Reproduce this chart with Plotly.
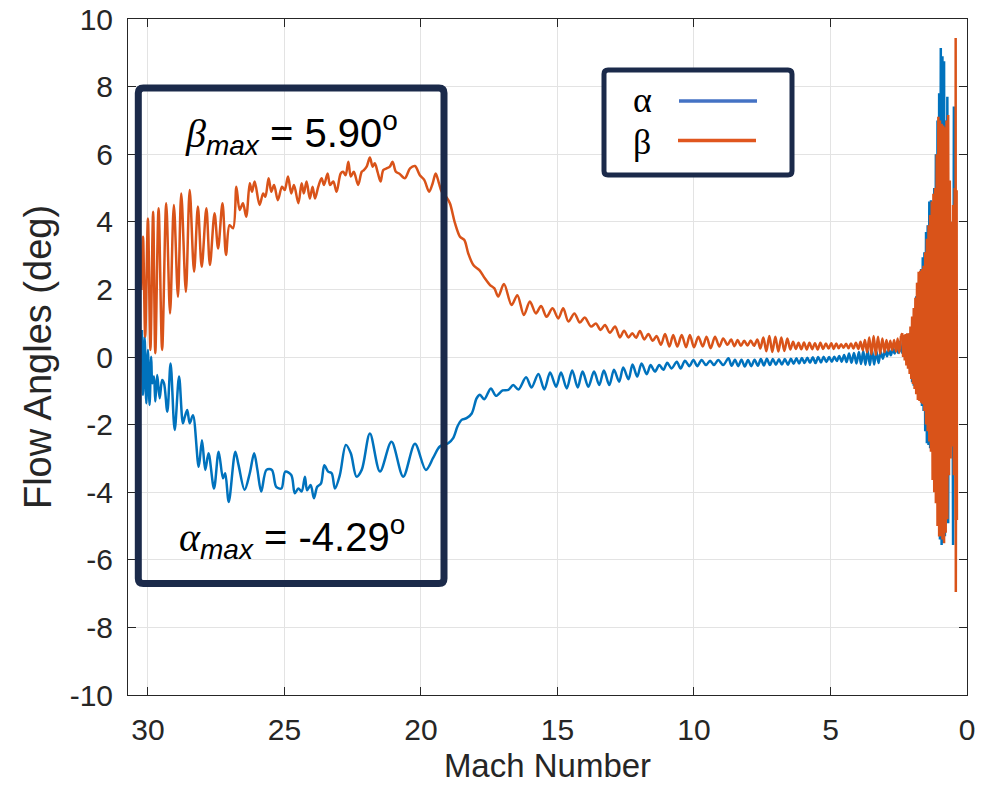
import plotly.graph_objects as go

# ---------------- data ----------------
alpha_mach = [
    30.22, 30.18, 30.12, 30.06, 30.00, 29.94, 29.88, 29.84, 29.78, 29.73, 29.66, 29.57, 29.48, 29.41,
    29.29, 29.17, 29.02, 28.86, 28.72, 28.65, 28.56, 28.47, 28.35, 28.14, 28.02, 27.90, 27.78, 27.58,
    27.41, 27.25, 27.17, 27.04, 26.80, 26.68, 26.46, 26.27, 26.11, 25.99, 25.85, 25.66, 25.46, 25.30,
    25.11, 24.97, 24.75, 24.62, 24.49, 24.37, 24.25, 24.17, 24.04, 23.92, 23.80, 23.66, 23.54, 23.40,
    23.27, 23.15, 22.97, 22.75, 22.57, 22.36, 22.17, 21.87, 21.50, 21.08, 20.65, 20.22, 19.82, 19.55,
    19.31, 19.00, 18.82, 18.66, 18.51, 18.33, 18.14, 17.96, 17.84, 17.68, 17.44, 17.25, 17.01, 16.80,
    16.62, 16.43, 16.15, 15.95, 15.70, 15.48, 15.27, 15.05, 14.87, 14.66, 14.46, 14.26, 14.08, 13.87,
    13.66, 13.47, 13.30, 13.10, 12.93, 12.74, 12.59, 12.40, 12.25, 12.08, 11.92, 11.73, 11.59, 11.43,
    11.27, 11.12, 10.98, 10.82, 10.63, 10.49, 10.33, 10.17, 10.02, 9.88, 9.72, 9.56, 9.41, 9.27,
    9.11, 8.93, 8.74,
    8.62, 8.50, 8.38, 8.26, 8.14, 8.02, 7.90, 7.78, 7.66, 7.55, 7.44, 7.33, 7.22, 7.11, 7.00, 6.89,
    6.78, 6.67, 6.56, 6.45, 6.35, 6.25, 6.15, 6.05, 5.95, 5.85, 5.75, 5.65, 5.55, 5.45, 5.35, 5.25,
    5.15, 5.05, 4.95, 4.86, 4.77, 4.68, 4.59, 4.50, 4.41, 4.32, 4.23, 4.14, 4.05, 3.96, 3.88, 3.80,
    3.72, 3.64, 3.56, 3.48, 3.40, 3.32, 3.24, 3.16, 3.08, 3.00, 2.93, 2.86, 2.79, 2.72, 2.65, 2.58,
    2.52, 2.46, 2.40,
]
alpha_deg = [
    0.80, -1.12, 0.60, -1.37, 0.21, -1.42, 0.01, -0.78, -0.58, -1.32, -0.53, -1.22, -0.68, -0.78,
    -1.62, -0.19, -2.16, -0.58, -1.96, -1.77, -1.57, -1.96, -1.72, -3.25, -2.46, -3.34, -2.85, -3.89,
    -2.80, -3.59, -3.44, -4.29, -2.80, -3.20, -3.93, -3.44, -2.85, -3.34, -3.98, -3.34, -3.34, -3.84,
    -3.89, -3.39, -3.49, -4.03, -3.89, -3.98, -3.54, -3.94, -3.79, -4.18, -3.84, -3.74, -3.20, -3.39,
    -3.44, -3.89, -3.49, -2.60, -2.85, -3.54, -3.34, -2.26, -3.39, -2.51, -3.54, -2.57, -3.34, -2.98,
    -2.65, -2.55, -2.40, -2.05, -1.86, -1.81, -1.67, -1.22, -1.12, -1.25, -0.93, -1.15, -0.99, -0.97,
    -0.83, -0.96, -0.60, -0.90, -0.50, -0.96, -0.46, -0.88, -0.46, -0.93, -0.40, -0.90, -0.43, -0.88,
    -0.43, -0.83, -0.40, -0.83, -0.38, -0.73, -0.31, -0.66, -0.22, -0.58, -0.19, -0.51, -0.24, -0.43,
    -0.24, -0.38, -0.17, -0.34, -0.14, -0.34, -0.11, -0.27, -0.09, -0.27, -0.09, -0.24, -0.11, -0.24,
    -0.09, -0.24, -0.04,
    -0.26, -0.08, -0.27, -0.08, -0.28, -0.09, -0.27, -0.08, -0.26, -0.06, -0.25, -0.05, -0.24, -0.06,
    -0.23, -0.07, -0.22, -0.06, -0.23, -0.05, -0.20, -0.04, -0.19, -0.03, -0.18, -0.02, -0.17, -0.01,
    -0.18, 0.00, -0.16, 0.01, -0.15, 0.00, -0.14, 0.01, -0.12, 0.03, -0.14, 0.06, -0.15, 0.10, -0.17,
    0.12, -0.19, 0.15, -0.21, 0.18, -0.23, 0.20, -0.24, 0.21, -0.22, 0.18, -0.18, 0.15, -0.05, 0.20,
    0.02, 0.22, 0.05, 0.25, 0.10, 0.35, 0.12, 0.45, 0.15,
]

beta_mach = [
    30.24, 30.18, 30.10, 30.00, 29.91, 29.81, 29.73, 29.61, 29.48, 29.33, 29.19, 29.05, 28.90, 28.78,
    28.61, 28.47, 28.31, 28.17, 28.03, 27.86, 27.73, 27.56, 27.43, 27.27, 27.14, 27.01, 26.88, 26.76,
    26.64, 26.52, 26.40, 26.27, 26.19, 26.09, 25.91, 25.78, 25.70, 25.58, 25.48, 25.38, 25.24, 25.09,
    24.99, 24.87, 24.75, 24.65, 24.49, 24.37, 24.29, 24.19, 24.07, 23.97, 23.88, 23.76, 23.64, 23.55,
    23.42, 23.33, 23.21, 23.09, 22.94, 22.85, 22.76, 22.66, 22.57, 22.46, 22.30, 22.17, 22.09, 21.99,
    21.87, 21.77, 21.69, 21.59, 21.48, 21.38, 21.26, 21.14, 21.04, 20.92, 20.80, 20.59, 20.40, 20.22,
    20.04, 19.88, 19.70, 19.57, 19.46, 19.34, 19.24, 19.06, 18.94, 18.75, 18.57, 18.41, 18.27, 18.08,
    17.86, 17.66, 17.47, 17.31, 17.17, 16.96, 16.68, 16.47, 16.23, 16.01, 15.79, 15.60, 15.40, 15.18,
    14.97, 14.79, 14.60, 14.38, 14.18, 14.00, 13.77, 13.59, 13.42, 13.26, 13.08, 12.89, 12.71, 12.56,
    12.40, 12.26, 12.12, 11.98, 11.82, 11.67, 11.51, 11.37, 11.21, 11.06, 10.90, 10.76, 10.61, 10.45,
    10.29, 10.15, 10.00, 9.84, 9.68, 9.54, 9.39, 9.23, 9.07, 8.93, 8.77,
    8.64, 8.52, 8.40, 8.28, 8.16, 8.04, 7.92, 7.80, 7.68, 7.57, 7.46, 7.35, 7.24, 7.13, 7.02, 6.91,
    6.80, 6.69, 6.58, 6.47, 6.37, 6.27, 6.17, 6.07, 5.97, 5.87, 5.77, 5.67, 5.57, 5.47, 5.37, 5.27,
    5.17, 5.07, 4.97, 4.88, 4.79, 4.70, 4.61, 4.52, 4.43, 4.34, 4.25, 4.16, 4.07, 3.98, 3.90, 3.82,
    3.74, 3.66, 3.58, 3.50, 3.42, 3.34, 3.26, 3.18, 3.10, 3.02, 2.95, 2.88, 2.81, 2.74, 2.67, 2.60,
    2.54, 2.48, 2.42,
]
beta_deg = [
    1.98, 3.56, 0.60, 4.10, 0.21, 4.30, 0.11, 4.40, 0.21, 4.55, 1.29, 4.50, 1.78, 4.84,
    1.93, 4.94, 2.52, 4.45, 2.67, 4.40, 2.72, 4.25, 3.21, 4.55, 3.02, 3.90, 3.81, 5.04,
    4.35, 4.55, 4.15, 5.14, 4.89, 5.19, 4.50, 4.84, 4.74, 5.29, 4.89, 5.09, 4.64, 5.04,
    4.94, 5.34, 4.84, 5.09, 4.55, 5.14, 4.84, 5.19, 4.69, 5.04, 4.69, 5.04, 5.29, 5.09,
    5.43, 5.09, 5.19, 4.89, 5.43, 5.48, 5.38, 5.78, 5.34, 5.48, 5.09, 5.48, 5.53, 5.63,
    5.90, 5.63, 5.73, 5.48, 5.19, 5.53, 5.58, 5.63, 5.78, 5.48, 5.43, 5.29, 5.58, 5.65,
    5.38, 5.24, 4.89, 5.14, 5.43, 5.14, 4.89, 4.72, 4.55, 3.95, 3.56, 3.46, 3.07, 2.72,
    2.57, 2.33, 2.13, 2.03, 1.79, 2.16, 1.54, 1.83, 1.24, 1.64, 1.29, 1.51, 1.19, 1.44,
    1.14, 1.44, 1.05, 1.29, 1.02, 1.17, 0.90, 0.99, 0.80, 0.95, 0.72, 0.90, 0.58, 0.78,
    0.58, 0.70, 0.57, 0.77, 0.52, 0.68, 0.48, 0.62, 0.36, 0.68, 0.31, 0.65, 0.31, 0.65,
    0.29, 0.65, 0.29, 0.60, 0.31, 0.60, 0.26, 0.60, 0.31, 0.55, 0.36,
    0.52, 0.32, 0.50, 0.33, 0.48, 0.34, 0.49, 0.33, 0.52, 0.25, 0.58, 0.17, 0.62, 0.15, 0.60, 0.16,
    0.58, 0.18, 0.55, 0.22, 0.45, 0.24, 0.42, 0.23, 0.43, 0.22, 0.42, 0.23, 0.41, 0.22, 0.42, 0.24,
    0.40, 0.25, 0.41, 0.24, 0.40, 0.26, 0.38, 0.27, 0.39, 0.26, 0.40, 0.25, 0.42, 0.24, 0.45, 0.20,
    0.50, 0.14, 0.58, 0.08, 0.62, 0.07, 0.60, 0.10, 0.55, 0.14, 0.50, 0.18, 0.48, 0.20, 0.50, 0.16,
    0.55, 0.12, 0.62,
]

# terminal (low-Mach) strongly oscillating part, shared Mach samples
tail_mach = [
    2.37, 2.34, 2.31, 2.28, 2.25, 2.22, 2.19, 2.16, 2.13, 2.10, 2.07, 2.04, 2.01, 1.98, 1.95, 1.92,
    1.89, 1.86, 1.83, 1.80, 1.77, 1.74, 1.71, 1.68, 1.65, 1.62, 1.59, 1.56, 1.53, 1.50, 1.47, 1.44,
    1.41, 1.38, 1.35, 1.32, 1.29, 1.26, 1.23, 1.20, 1.17, 1.14, 1.11, 1.08, 1.05, 1.02, 0.99, 0.96,
    0.93, 0.90, 0.87, 0.84, 0.81, 0.78, 0.75, 0.72, 0.69, 0.66, 0.63, 0.60, 0.57, 0.54, 0.51, 0.48,
    0.45, 0.42,
]
alpha_tail = [
    0.12, 0.55, 0.05, 0.58, -0.05, 0.60, -0.15, 0.62, -0.30, 0.70, -0.50, 0.85, -0.75, 1.10, -0.85, 1.40,
    -0.95, 1.80, -1.05, 2.20, -1.15, 2.45, -1.30, 2.60, -1.45, 2.95, -1.60, 3.10, -2.20, 3.70, -2.55, 3.90,
    -2.60, 4.60, -2.70, 4.64, -2.75, 4.50, -3.30, 5.00, -3.80, 6.00, -4.30, 7.00, -5.00, 7.80, -5.40, 9.14,
    -5.56, 8.90, -5.50, 8.75, -5.30, 7.00, -4.20, 7.70, -4.92, 5.00, -2.60, 4.00, -2.00, 3.50, -5.56, 7.41,
    -1.50, 2.00,
]
beta_tail = [
    0.70, 0.00, 0.65, -0.10, 0.68, -0.25, 0.70, -0.35, 0.70, -0.50, 0.90, -0.65, 1.20, -0.80, 1.45, -0.95,
    1.75, -1.10, 2.20, -1.27, 2.52, -1.30, 2.55, -1.35, 2.60, -1.40, 2.70, -1.60, 3.10, -2.00, 3.50, -2.20,
    3.90, -2.50, 4.20, -2.80, 4.60, -3.64, 4.83, -4.00, 5.00, -4.33, 6.00, -5.00, 7.11, -5.31, 7.00, -5.30,
    6.90, -5.40, 6.85, -5.51, 6.80, -5.20, 7.00, -4.80, 7.16, -3.50, 5.22, -3.00, 4.00, -2.65, 4.50, -3.50,
    5.00, -4.82,
]
beta_end_mach = [0.415, 0.41, 0.38, 0.37]
beta_end = [9.44, -6.95, 4.93, -4.82]

x_tick_vals = [30, 25, 20, 15, 10, 5, 0]
y_tick_vals = [-10, -8, -6, -4, -2, 0, 2, 4, 6, 8, 10]

beta_label = '<span style="font-family:Liberation Serif"><i>β</i></span><sub><i>max</i></sub> = 5.90<sup>o</sup>'
alpha_label = '<span style="font-family:Liberation Serif"><i>α</i></span><sub><i>max</i></sub> = -4.29<sup>o</sup>'

# ---------------- layout geometry (pixels) ----------------
W, H = 992, 785
PL, PR, PT, PB = 128, 967, 19, 695   # plot area edges


def px_x(x):
    return (x - PL) / (PR - PL)


def px_y(y):
    return (PB - y) / (PB - PT)


def rounded_rect(x0, y0, x1, y1, r):
    pts = [
        ("M", x0 + r, y0), ("L", x1 - r, y0), ("Q", x1, y0, x1, y0 + r),
        ("L", x1, y1 - r), ("Q", x1, y1, x1 - r, y1), ("L", x0 + r, y1),
        ("Q", x0, y1, x0, y1 - r), ("L", x0, y0 + r), ("Q", x0, y0, x0 + r, y0),
    ]
    out = []
    for p in pts:
        cmd = p[0]
        coords = p[1:]
        s = []
        for i in range(0, len(coords), 2):
            s.append(f"{px_x(coords[i]):.5f},{px_y(coords[i + 1]):.5f}")
        out.append(cmd + " " + " ".join(s))
    return " ".join(out) + " Z"


BLUE = "#0072BD"
ORANGE = "#D95319"
NAVY = "#1B2A4A"
AXC = "#262626"
LW = 2.5

fig = go.Figure()
# smooth main part of each curve
fig.add_trace(go.Scatter(x=alpha_mach, y=alpha_deg, mode="lines",
                         line=dict(color=BLUE, width=LW, shape="spline", smoothing=0.9),
                         name="α", showlegend=False))
fig.add_trace(go.Scatter(x=alpha_mach[-1:] + tail_mach, y=alpha_deg[-1:] + alpha_tail, mode="lines",
                         line=dict(color=BLUE, width=LW), name="α", showlegend=False))
fig.add_trace(go.Scatter(x=beta_mach, y=beta_deg, mode="lines",
                         line=dict(color=ORANGE, width=LW, shape="spline", smoothing=0.9),
                         name="β", showlegend=False))
fig.add_trace(go.Scatter(x=beta_mach[-1:] + tail_mach + beta_end_mach,
                         y=beta_deg[-1:] + beta_tail + beta_end, mode="lines",
                         line=dict(color=ORANGE, width=LW), name="β", showlegend=False))

axis_common = dict(
    showgrid=True, gridcolor="#E3E3E3", gridwidth=1, zeroline=False,
    showline=True, linecolor=AXC, linewidth=1, mirror="ticks",
    ticks="inside", ticklen=8, tickcolor=AXC, tickwidth=1,
    tickfont=dict(family="Liberation Sans", size=30, color=AXC),
)
fig.update_xaxes(range=[30.73, 0], tickvals=x_tick_vals, ticktext=[str(v) for v in x_tick_vals],
                 title=dict(text="Mach Number", font=dict(family="Liberation Sans", size=33, color=AXC),
                            standoff=8),
                 ticklabelstandoff=8, **axis_common)
fig.update_yaxes(range=[-10, 10], tickvals=y_tick_vals, ticktext=[str(v) for v in y_tick_vals],
                 title=dict(text="Flow Angles (deg)", font=dict(family="Liberation Sans", size=38, color=AXC),
                            standoff=6),
                 ticklabelstandoff=8, **axis_common)

shapes = [
    dict(type="path", xref="paper", yref="paper", path=rounded_rect(138.3, 88, 444, 583.5, 5),
         line=dict(color=NAVY, width=7), layer="above"),
    dict(type="path", xref="paper", yref="paper", path=rounded_rect(604, 70, 792, 175, 4),
         line=dict(color=NAVY, width=5), fillcolor="white", layer="above"),
    dict(type="line", xref="paper", yref="paper", x0=px_x(679), x1=px_x(757), y0=px_y(101), y1=px_y(101),
         line=dict(color="#4472C4", width=3.5), layer="above"),
    dict(type="line", xref="paper", yref="paper", x0=px_x(678), x1=px_x(756), y0=px_y(140.5), y1=px_y(140.5),
         line=dict(color="#E0561E", width=3.5), layer="above"),
]

annotations = [
    dict(x=px_x(291), y=px_y(133), xref="paper", yref="paper", text=beta_label, showarrow=False,
         xanchor="center", yanchor="middle", font=dict(family="Liberation Sans", size=40, color="black")),
    dict(x=px_x(292), y=px_y(537), xref="paper", yref="paper", text=alpha_label, showarrow=False,
         xanchor="center", yanchor="middle", font=dict(family="Liberation Sans", size=40, color="black")),
    dict(x=px_x(642), y=px_y(100), xref="paper", yref="paper", text="α", showarrow=False,
         xanchor="center", yanchor="middle", font=dict(family="Liberation Serif", size=36, color="black")),
    dict(x=px_x(642), y=px_y(142), xref="paper", yref="paper", text="β", showarrow=False,
         xanchor="center", yanchor="middle", font=dict(family="Liberation Serif", size=36, color="black")),
]

fig.update_layout(
    width=W, height=H,
    margin=dict(l=PL, r=W - PR, t=PT, b=H - PB, autoexpand=False),
    paper_bgcolor="white", plot_bgcolor="white",
    shapes=shapes, annotations=annotations,
    showlegend=False,
)

fig.write_html("out.html")
